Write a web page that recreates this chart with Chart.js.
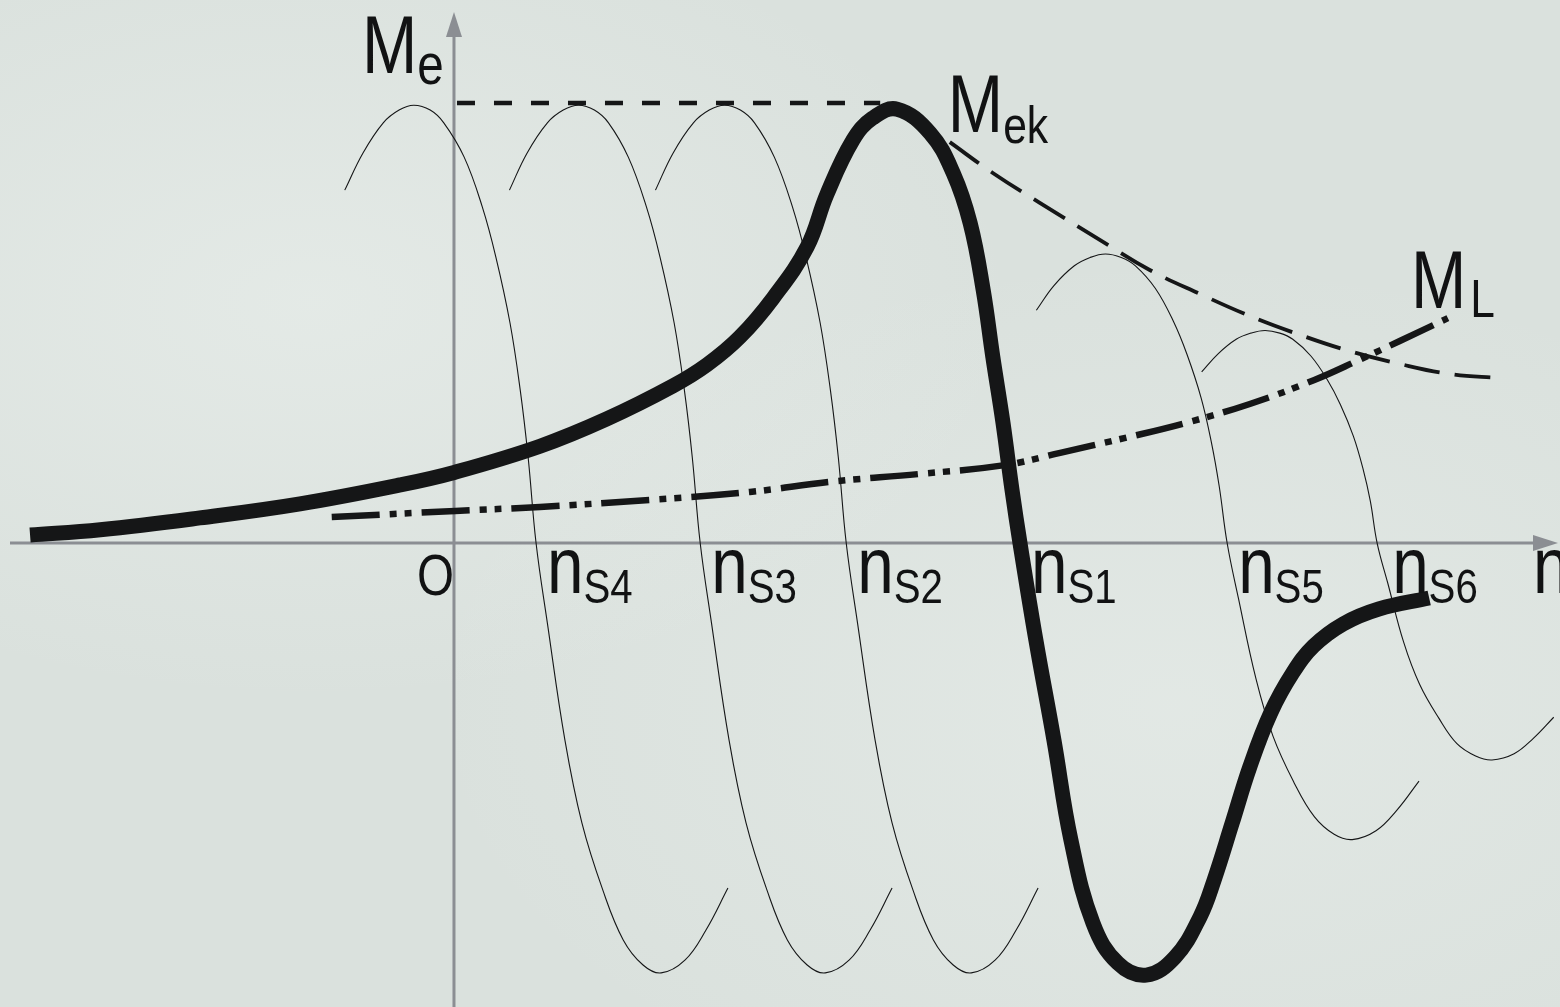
<!DOCTYPE html>
<html>
<head>
<meta charset="utf-8">
<title>Torque-speed characteristics</title>
<script src="https://cdn.jsdelivr.net/npm/chart.js@4.4.1/dist/chart.umd.min.js"></script>
<style>
  html, body { margin: 0; padding: 0; background: #dbe2de; }
  #wrap {
    width: 1560px; height: 1007px; position: relative; overflow: hidden;
    background:
      radial-gradient(ellipse at 20% 30%, rgba(236,241,238,0.55), rgba(236,241,238,0) 40%),
      radial-gradient(ellipse at 75% 70%, rgba(236,241,238,0.45), rgba(236,241,238,0) 45%),
      #dae1dd;
  }
  canvas { display: block; }
</style>
</head>
<body>
<div id="wrap"><canvas id="chart" width="1560" height="1007"></canvas></div>
<script>
/* speed n in % of n_S1, torque M in % of breakdown torque M_ek */

// synchronous speeds of the six characteristics
const syncNames  = ['S4', 'S3', 'S2', 'S1', 'S5', 'S6'];
const syncSpeeds = [14.5, 43.5, 69.3, 100, 136.6, 163.1];

// operating characteristic (thick curve)
const motorN = [-74.9, -62.5, -44.9, -27.2, -9.5, 0.2, 15.2, 27.0, 38.7, 44.7, 50.5, 56.4, 62.4, 65.9, 70.5,
  74.0, 78.3, 84.1, 88.2, 91.2, 93.5, 95.2, 97.0, 98.6, 100, 102.8, 106.0, 109.0, 112.9, 117.3,
  122.3, 127.4, 131.8, 134.3, 137.5, 140.6, 144.3, 148.2, 151.9, 157.1, 163.4, 172.3];
const motorM = [1.8, 3.0, 5.7, 8.9, 13.2, 16.1, 22.0, 28.2, 35.7, 40.5, 46.8, 55.7, 67.3, 79.3, 91.6,
  96.6, 98.6, 93.2, 84.1, 72.7, 57.5, 42.3, 27.3, 12.0, 0, -22.0, -44.8, -67.5, -86.4, -95.5,
  -98.2, -94.1, -85.0, -76.6, -63.6, -50.9, -38.6, -29.5, -23.4, -18.4, -15.0, -12.5];

// full-flux characteristics at n_S4, n_S3, n_S2 (same torque values)
const fullFluxM = [80.2, 88.6, 95.5, 98.4, 99.5, 98.4, 95.5, 87.7, 76.4, 65.0, 50.0, 34.8, 19.5, 0,
  -18.2, -44.8, -63.6, -78.9, -90.2, -95.9, -97.7, -94.8, -88.0, -78.4];
const speedS4 = [-19.3, -16.1, -12.5, -9.7, -7.1, -4.2, -1.8, 1.8, 5.0, 7.4, 9.9, 11.7, 13.1, 14.5,
  16.5, 19.6, 22.6, 26.3, 29.9, 33.4, 36.6, 40.8, 44.5, 48.4];
const speedS3 = [9.8, 12.9, 16.5, 19.3, 22.0, 24.8, 27.3, 30.8, 34.0, 36.4, 38.9, 40.7, 42.1, 43.5,
  45.5, 48.6, 51.6, 55.3, 58.9, 62.4, 65.6, 69.8, 73.5, 77.4];
const speedS2 = [35.6, 38.7, 42.3, 45.1, 47.8, 50.6, 53.1, 56.6, 59.8, 62.2, 64.7, 66.5, 67.9, 69.3,
  71.3, 74.4, 77.4, 81.1, 84.7, 88.2, 91.4, 95.6, 99.3, 103.2];

// field-weakening characteristics at n_S5 and n_S6
const speedS5 = [102.9, 106.0, 109.6, 112.4, 115.1, 117.9, 120.4, 123.9, 127.1, 129.5, 132.0, 133.8, 135.2, 136.6,
  138.6, 141.7, 144.7, 148.4, 152.0, 155.5, 158.7, 162.9, 166.6, 170.5];
const torqueS5 = [52.9, 58.5, 63.0, 64.9, 65.7, 64.9, 63.0, 57.9, 50.4, 42.9, 33.0, 23.0, 12.9, 0,
  -12.6, -30.9, -43.9, -54.4, -62.2, -66.2, -67.4, -65.4, -60.7, -54.1];
const speedS6 = [132.1, 135.0, 138.2, 140.8, 143.3, 145.9, 148.2, 151.4, 154.3, 156.6, 158.9, 160.6, 161.9, 163.1,
  165.0, 167.8, 170.6, 174.0, 177.2, 180.5, 183.4, 187.3, 190.7, 194.3];
const torqueS6 = [38.9, 43.0, 46.3, 47.7, 48.3, 47.7, 46.3, 42.5, 37.1, 31.5, 24.3, 16.9, 9.5, 0,
  -9.2, -22.6, -32.1, -39.8, -45.6, -48.4, -49.3, -47.9, -44.4, -39.6];

// breakdown torque envelope M_ek
const breakN = [0, 75.3];
const breakM = [100, 100];
const envN = [87.6, 95.2, 103.5, 114.1, 123.0, 131.8, 140.6, 149.5, 158.3, 167.1, 176.0, 184.8];
const envM = [91.1, 84.1, 77.3, 68.9, 62.0, 56.6, 51.6, 47.3, 43.6, 40.7, 38.4, 37.5];

// load torque M_L
const loadN = [-21.6, 0.2, 15.2, 34.6, 52.3, 66.4, 82.3, 97.3, 107.1, 118.6, 129.3, 140.6, 151.9, 159.9, 167.1, 175.6];
const loadM = [5.9, 7.3, 8.2, 9.8, 11.6, 13.9, 15.7, 17.7, 20.5, 23.9, 27.3, 31.6, 37.0, 41.6, 45.9, 51.1];

const pts = (n, m) => n.map((v, i) => ({ x: v, y: m[i] }));

const INK = '#151617';
const AXIS = '#8b8e93';
const FONT = '"Liberation Sans", Arial, Helvetica, sans-serif';
const SQUEEZE = 0.82;

function thin(n, m) {
  return { data: pts(n, m), borderColor: INK, borderWidth: 1.1, order: 5, tension: 0.4 };
}

// condensed text, returns advance width
function squeezed(ctx, str, x, y, size) {
  ctx.save();
  ctx.font = size + 'px ' + FONT;
  ctx.translate(x, y);
  ctx.scale(SQUEEZE, 1);
  ctx.fillText(str, 0, 0);
  const w = ctx.measureText(str).width * SQUEEZE;
  ctx.restore();
  return w;
}

function subLabel(ctx, main, sub, x, y, size, subSize, drop, gap) {
  const w = squeezed(ctx, main, x, y, size);
  if (sub) squeezed(ctx, sub, x + w + (gap || 0), y + drop, subSize);
}

const axesPlugin = {
  id: 'axes',
  beforeDatasetsDraw(chart) {
    const { ctx, chartArea, scales: { x, y } } = chart;
    const x0 = x.getPixelForValue(0);
    const y0 = y.getPixelForValue(0);
    const tipX = chartArea.right - 2;
    const tipY = chartArea.top + 12;
    ctx.save();
    ctx.strokeStyle = AXIS;
    ctx.fillStyle = AXIS;
    ctx.lineWidth = 3;
    ctx.beginPath();
    ctx.moveTo(chartArea.left + 10, y0);
    ctx.lineTo(tipX - 20, y0);
    ctx.moveTo(x0, chartArea.bottom);
    ctx.lineTo(x0, tipY + 20);
    ctx.stroke();
    ctx.beginPath();
    ctx.moveTo(tipX, y0);
    ctx.lineTo(tipX - 25, y0 - 8);
    ctx.lineTo(tipX - 25, y0 + 8);
    ctx.closePath();
    ctx.fill();
    ctx.beginPath();
    ctx.moveTo(x0, tipY);
    ctx.lineTo(x0 - 8, tipY + 25);
    ctx.lineTo(x0 + 8, tipY + 25);
    ctx.closePath();
    ctx.fill();
    ctx.restore();
  }
};

const labelPlugin = {
  id: 'labels',
  afterDatasetsDraw(chart) {
    const { ctx, chartArea, scales: { x, y } } = chart;
    const x0 = x.getPixelForValue(0);
    const y0 = y.getPixelForValue(0);
    ctx.save();
    ctx.fillStyle = '#111213';
    ctx.textBaseline = 'alphabetic';
    ctx.textAlign = 'left';

    subLabel(ctx, 'M', 'e', x0 - 92, y0 - 470, 81, 58, 11);
    squeezed(ctx, 'O', x0 - 37, y0 + 52, 58);

    syncSpeeds.forEach((ns, i) => {
      const px = x.getPixelForValue(ns) + (i === 5 ? 15 : 11);
      subLabel(ctx, 'n', syncNames[i], px, y0 + 50, 80, 49, 10);
    });
    squeezed(ctx, 'n', chartArea.right - 27, y0 + 50, 80);

    // M_ek sits at the start of the envelope, M_L at the end of the load line
    const ex = x.getPixelForValue(envN[0]);
    const ey = y.getPixelForValue(envM[0]);
    subLabel(ctx, 'M', 'ek', ex - 2, ey - 10, 81, 52, 11);

    const last = loadN.length - 1;
    const lx = x.getPixelForValue(loadN[last]);
    const ly = y.getPixelForValue(loadM[last]);
    subLabel(ctx, 'M', 'L', lx - 37, ly - 10, 81, 54, 9, 4);
    ctx.restore();
  }
};

new Chart(document.getElementById('chart'), {
  type: 'line',
  data: {
    datasets: [
      { data: pts(motorN, motorM), borderColor: INK, borderWidth: 15, order: 0, tension: 0.4,
        borderCapStyle: 'butt', borderJoinStyle: 'round' },
      thin(speedS4, fullFluxM),
      thin(speedS3, fullFluxM),
      thin(speedS2, fullFluxM),
      thin(speedS5, torqueS5),
      thin(speedS6, torqueS6),
      { data: pts(loadN, loadM), borderColor: INK, borderWidth: 6.5, order: 2, tension: 0.4,
        borderCapStyle: 'butt', borderDash: [48, 10, 7, 8, 7, 10] },
      { data: pts(breakN, breakM), borderColor: INK, borderWidth: 4.5, order: 3, tension: 0,
        borderCapStyle: 'butt', borderDash: [18, 19], borderDashOffset: -3 },
      { data: pts(envN, envM), borderColor: INK, borderWidth: 3.8, order: 3, tension: 0.4,
        borderCapStyle: 'butt', borderDash: [36, 15] }
    ]
  },
  options: {
    responsive: false,
    devicePixelRatio: 1,
    animation: false,
    events: [],
    layout: { padding: 0 },
    elements: { point: { radius: 0 }, line: { fill: false } },
    plugins: { legend: { display: false }, tooltip: { enabled: false } },
    scales: {
      x: { type: 'linear', min: -80.21, max: 195.41, display: false },
      y: { type: 'linear', min: -105.45, max: 123.41, display: false }
    }
  },
  plugins: [axesPlugin, labelPlugin]
});
</script>
</body>
</html>
